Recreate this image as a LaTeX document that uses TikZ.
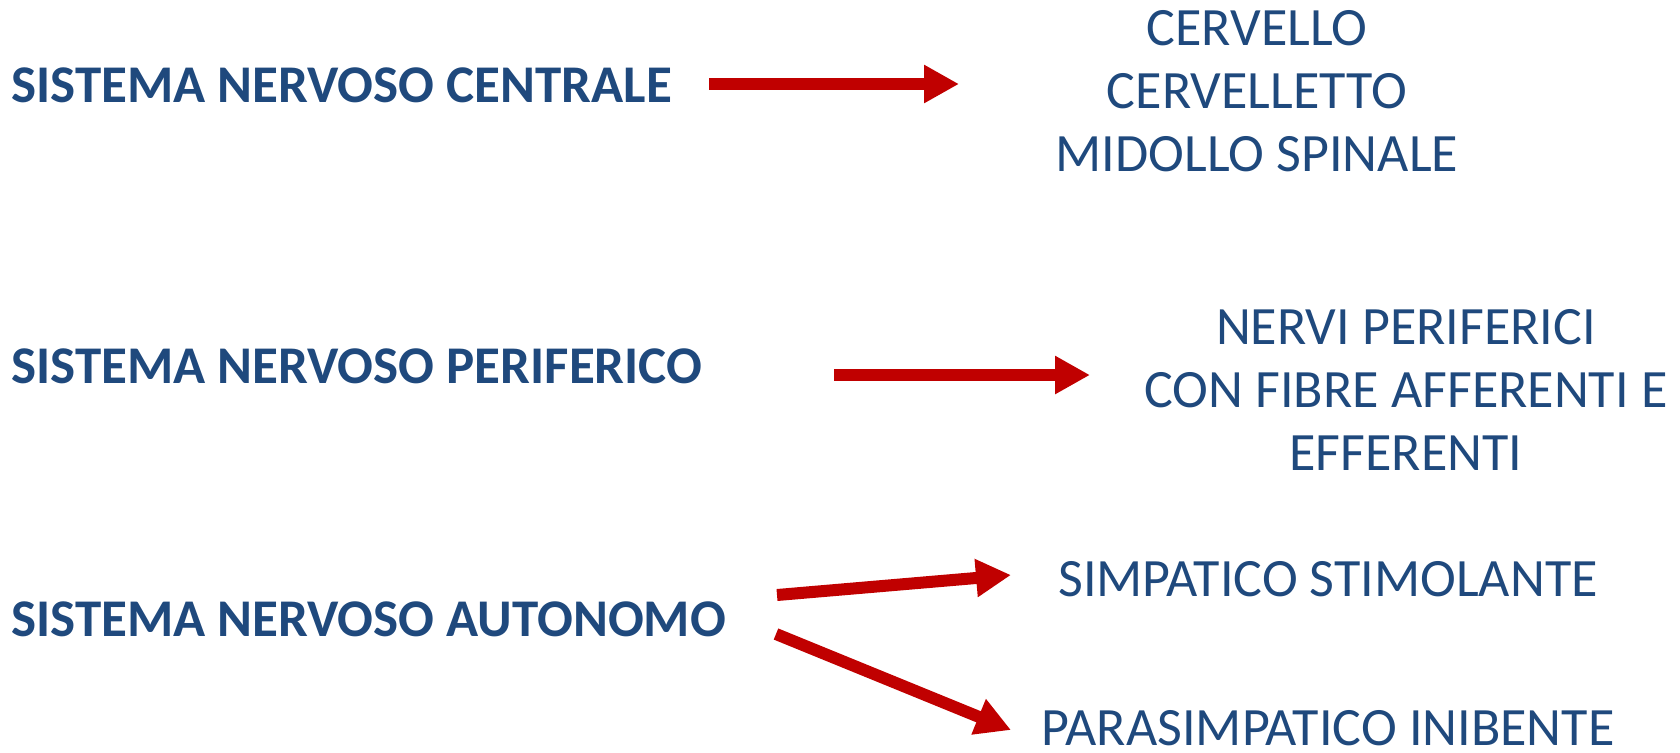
\documentclass[tikz,border=0pt]{standalone}
\usepackage{fontspec}
\setmainfont{Carlito}
\usetikzlibrary{arrows.meta}
\definecolor{navytext}{RGB}{31,73,125}
\definecolor{arrowred}{RGB}{192,0,0}
\tikzset{
  systemlabel/.style={anchor=base west,inner sep=0pt,text=navytext,font=\fontsize{26.5}{31.5}\selectfont\bfseries},
  partlabel/.style={inner sep=0pt,text=navytext,align=center,font=\fontsize{27}{31.5}\selectfont},
  nervearrow/.style={draw=arrowred,line width=6pt,-{Triangle[length=17.5pt,width=18pt]}}
}
\begin{document}
\begin{tikzpicture}[x=0.5pt,y=0.5pt,yscale=-1,xscale=1]
\useasboundingbox (0,0) rectangle (1680,752);

% Text Node
\node (snc) [systemlabel] at (11,102) {SISTEMA NERVOSO CENTRALE};
% Text Node
\node (snp) [systemlabel] at (11,383) {SISTEMA NERVOSO PERIFERICO};
% Text Node
\node (sna) [systemlabel] at (11,636) {SISTEMA NERVOSO AUTONOMO};

% Text Node
\node (encefalo) [partlabel] at (1257,91) {CERVELLO\\CERVELLETTO\\MIDOLLO SPINALE};
% Text Node
\node (nervi) [partlabel] at (1406,390) {NERVI PERIFERICI\\CON FIBRE AFFERENTI E\\EFFERENTI};
% Text Node
\node (simpatico) [partlabel] at (1328,579) {SIMPATICO STIMOLANTE};
% Text Node
\node (parasimpatico) [partlabel,anchor=base] at (1328,745) {PARASIMPATICO INIBENTE};

% Arrow ends
\coordinate (sncOut) at (709,84);
\coordinate (sncIn) at (959,84);
\coordinate (snpOut) at (834,375);
\coordinate (snpIn) at (1090,375);
\coordinate (snaOutA) at (777,595);
\coordinate (snaInA) at (1011,575);
\coordinate (snaOutB) at (776,634);
\coordinate (snaInB) at (1011,730);

% Arrows
\draw [nervearrow] (sncOut) -- (sncIn);
\draw [nervearrow] (snpOut) -- (snpIn);
\draw [nervearrow] (snaOutA) -- (snaInA);
\draw [nervearrow] (snaOutB) -- (snaInB);

\end{tikzpicture}
\end{document}
